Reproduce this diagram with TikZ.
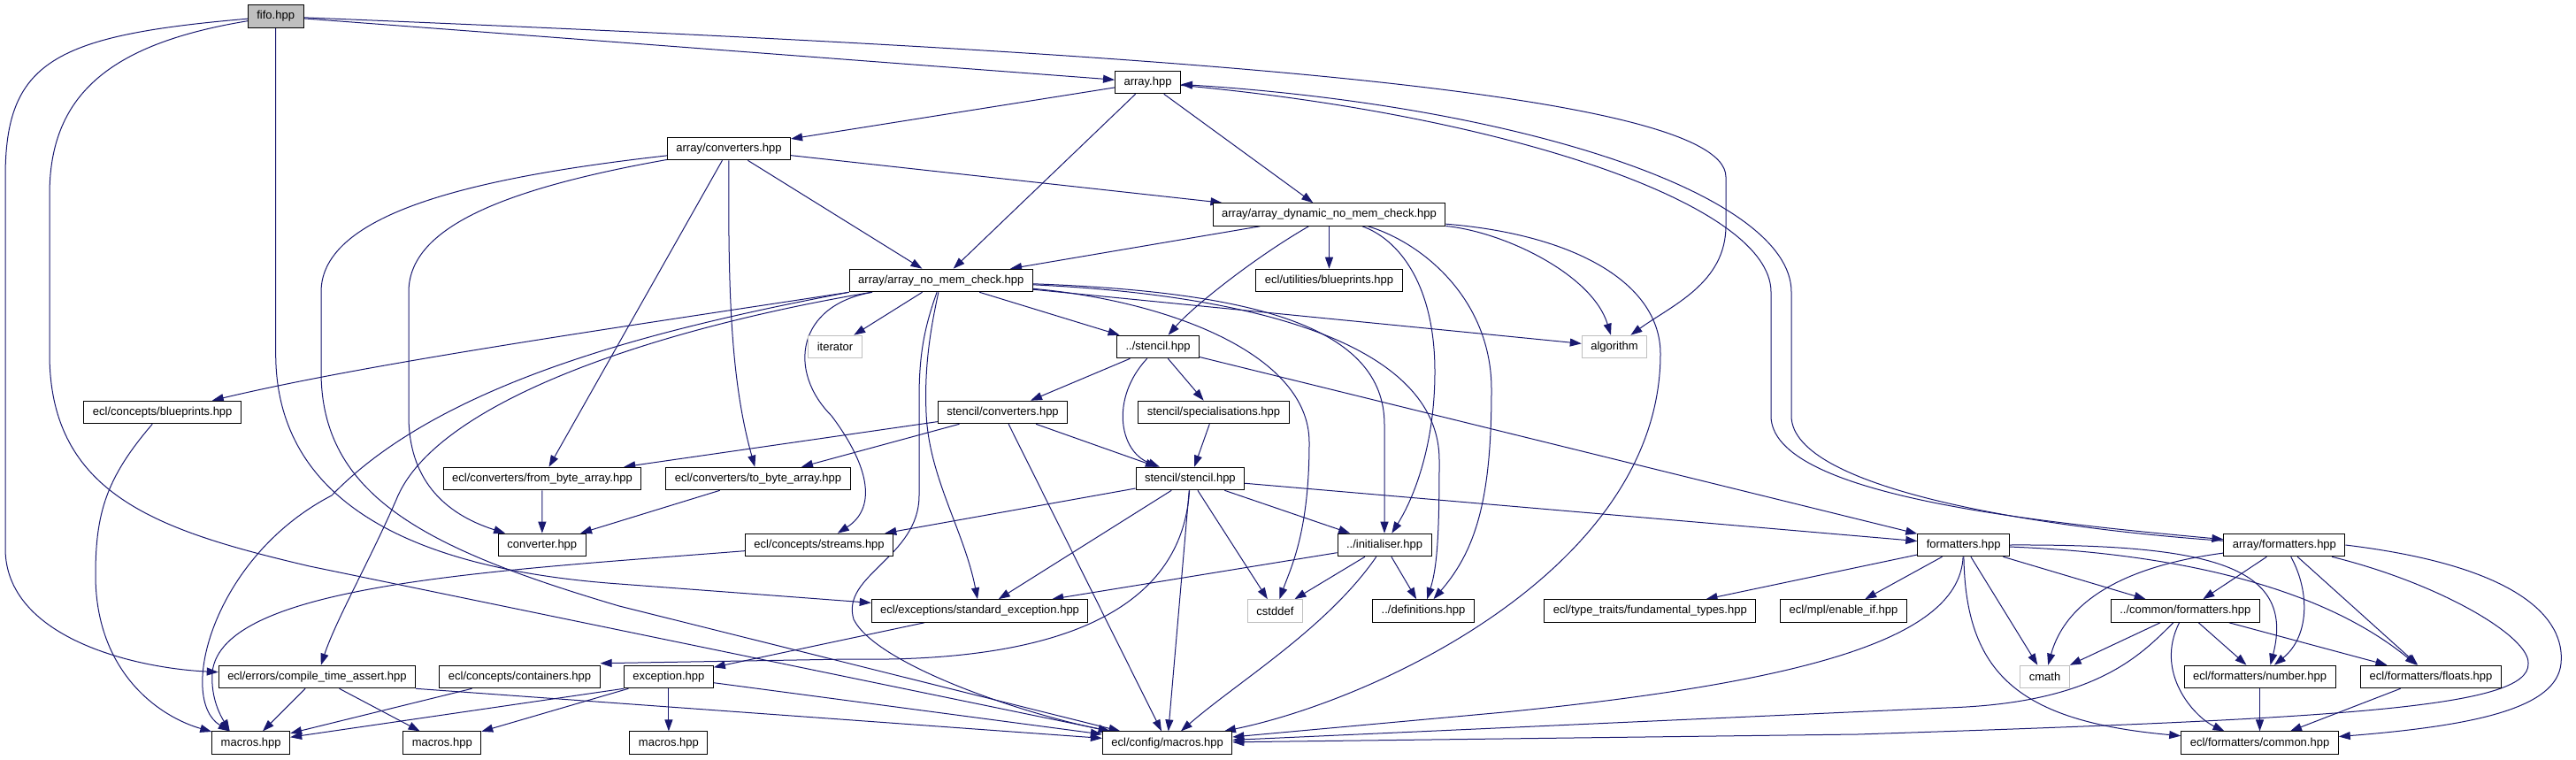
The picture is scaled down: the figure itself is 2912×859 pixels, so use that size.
\documentclass[tikz,border=0pt]{standalone}
\usepackage{fontspec}
\setmainfont{Liberation Sans}[Ligatures=CommonOff]
\usetikzlibrary{arrows.meta,backgrounds}
\definecolor{edgeblue}{RGB}{25,25,112}
\definecolor{sysgray}{RGB}{191,191,191}
\definecolor{fifogray}{RGB}{191,191,191}
\tikzset{
  inc/.style={draw=black, fill=white, line width=1pt, minimum height=25.6pt,
    inner xsep=10pt, inner ysep=1pt, font=\fontsize{13}{15}\selectfont},
  sys/.style={inc, draw=sysgray},
  dep/.style={draw=edgeblue, line width=1pt, -{Triangle[length=13pt,width=9pt]}}
}
\begin{document}
\begin{tikzpicture}[x=1pt,y=-1pt]
\useasboundingbox (0,0) rectangle (2912,859);

\node[inc, fill=fifogray] (fifo) at (311.7,18.5) {fifo.hpp};
\node[inc] (arr) at (1297.5,93) {array.hpp};
\node[inc] (arrconv) at (824,168) {array/converters.hpp};
\node[inc] (arrdyn) at (1502.5,242.5) {array/array\_dynamic\_no\_mem\_check.hpp};
\node[inc] (arrnmc) at (1063.8,317) {array/array\_no\_mem\_check.hpp};
\node[inc] (utilbp) at (1502.5,317) {ecl/utilities/blueprints.hpp};
\node[sys] (iter) at (944,392) {iterator};
\node[inc] (stcl) at (1309,392) {../stencil.hpp};
\node[sys] (algo) at (1825,392) {algorithm};
\node[inc] (conbp) at (183.7,466) {ecl/concepts/blueprints.hpp};
\node[inc] (stconv) at (1133.5,466) {stencil/converters.hpp};
\node[inc] (stspec) at (1372,466) {stencil/specialisations.hpp};
\node[inc] (frombyte) at (613,541) {ecl/converters/from\_byte\_array.hpp};
\node[inc] (tobyte) at (857,541) {ecl/converters/to\_byte\_array.hpp};
\node[inc] (ststcl) at (1345.4,541) {stencil/stencil.hpp};
\node[inc] (conv) at (612.8,616) {converter.hpp};
\node[inc] (streams) at (926,616) {ecl/concepts/streams.hpp};
\node[inc] (init) at (1565,616) {../initialiser.hpp};
\node[inc] (fmt) at (2219.7,616) {formatters.hpp};
\node[inc] (arrfmt) at (2582.4,616) {array/formatters.hpp};
\node[inc] (stdexc) at (1107.6,690.5) {ecl/exceptions/standard\_exception.hpp};
\node[sys] (cstddef) at (1441.4,690.5) {cstddef};
\node[inc] (defs) at (1609,690.5) {../definitions.hpp};
\node[inc] (fundt) at (1865.3,690.5) {ecl/type\_traits/fundamental\_types.hpp};
\node[inc] (enif) at (2084,690.5) {ecl/mpl/enable\_if.hpp};
\node[inc] (comfmt) at (2470.3,690.5) {../common/formatters.hpp};
\node[inc] (cta) at (358.4,765) {ecl/errors/compile\_time\_assert.hpp};
\node[inc] (cont) at (587.5,765) {ecl/concepts/containers.hpp};
\node[inc] (exc) at (755.9,765) {exception.hpp};
\node[sys] (cmath) at (2311.5,765) {cmath};
\node[inc] (number) at (2554.5,765) {ecl/formatters/number.hpp};
\node[inc] (floats) at (2748,765) {ecl/formatters/floats.hpp};
\node[inc] (macA) at (283.7,839.7) {macros.hpp};
\node[inc] (macB) at (499.8,839.7) {macros.hpp};
\node[inc] (macC) at (755.9,839.7) {macros.hpp};
\node[inc] (cfgmac) at (1319.6,839.7) {ecl/config/macros.hpp};
\node[inc] (fcommon) at (2554.5,839.7) {ecl/formatters/common.hpp};

\begin{pgfonlayer}{background}
\fill[white] (0,0) rectangle (2912,859);
% fifo.hpp
\draw[dep] (fifo) -- (arr);
\draw[dep] (fifo) .. controls (1200,55) and (1951,95) .. (1951,200) -- (1951,255) .. controls (1951,320) and (1890,345) .. (algo);
\draw[dep] (fifo) .. controls (60,40) and (6,70) .. (6,200) -- (6,620) .. controls (6,720) and (150,755) .. (cta);
\draw[dep] (fifo) .. controls (120,50) and (56,110) .. (56,220) -- (56,400) .. controls (56,560) and (180,600) .. (350,640) -- (cfgmac);
\draw[dep] (fifo) -- (311.7,400) .. controls (311.7,540) and (420,640) .. (700,660) -- (stdexc);
% array.hpp
\draw[dep] (arr) -- (arrconv);
\draw[dep] (arr) -- (arrnmc);
\draw[dep] (arr) -- (arrdyn);
\draw[dep] (arr) .. controls (1700,130) and (2002,230) .. (2002,330) -- (2002,470) .. controls (2002,560) and (2300,590) .. (arrfmt);
\draw[dep] (arrfmt) .. controls (2320,598) and (2025,555) .. (2025,470) -- (2025,330) .. controls (2025,220) and (1720,120) .. (arr);
% array/converters.hpp
\draw[dep] (arrconv) -- (arrdyn);
\draw[dep] (arrconv) -- (arrnmc);
\draw[dep] (arrconv) -- (frombyte);
\draw[dep] (arrconv) .. controls (823,330) and (826,430) .. (tobyte);
\draw[dep] (arrconv) .. controls (560,215) and (462,260) .. (462,330) -- (462,470) .. controls (462,540) and (500,580) .. (conv);
\draw[dep] (arrconv) .. controls (540,200) and (363,240) .. (363,330) -- (363,420) .. controls (363,560) and (480,620) .. (700,685) -- (cfgmac);
% array_dynamic_no_mem_check.hpp
\draw[dep] (arrdyn) -- (arrnmc);
\draw[dep] (arrdyn) .. controls (1420,290) and (1350,345) .. (stcl);
\draw[dep] (arrdyn) -- (utilbp);
\draw[dep] (arrdyn) .. controls (1700,262) and (1800,310) .. (algo);
\draw[dep] (arrdyn) .. controls (1580,270) and (1622,320) .. (1622,420) .. controls (1622,500) and (1600,560) .. (init);
\draw[dep] (arrdyn) .. controls (1610,275) and (1686,340) .. (1686,440) .. controls (1686,560) and (1670,620) .. (defs);
\draw[dep] (arrdyn) .. controls (1780,265) and (1877,320) .. (1877,400) .. controls (1877,640) and (1560,790) .. (cfgmac);
% array_no_mem_check.hpp
\draw[dep] (arrnmc.south west) .. controls (700,370) and (420,410) .. (conbp);
\draw[dep] (arrnmc.south west) .. controls (750,370) and (500,430) .. (375,560) .. controls (240,630) and (200,790) .. ([xshift=-24pt]macA.north);
\draw[dep] (arrnmc) .. controls (750,370) and (500,450) .. (450,560) .. controls (420,630) and (380,700) .. (cta);
\draw[dep] (arrnmc) .. controls (900,345) and (890,420) .. (940,470) .. controls (985,530) and (990,575) .. (streams);
\draw[dep] (arrnmc) -- (iter);
\draw[dep] (arrnmc) .. controls (1045,370) and (1039,400) .. (1039,450) -- (1039,560) .. controls (1039,630) and (950,650) .. (965,700) .. controls (990,750) and (1150,805) .. (cfgmac);
\draw[dep] (arrnmc) .. controls (1050,380) and (1045,420) .. (1047,467) .. controls (1050,540) and (1090,600) .. (stdexc);
\draw[dep] (arrnmc) -- (stcl);
\draw[dep] (arrnmc) -- (algo);
\draw[dep] (arrnmc) .. controls (1420,330) and (1565,370) .. (1565,480) -- (init);
\draw[dep] (arrnmc) .. controls (1450,335) and (1627,400) .. (1627,520) .. controls (1627,600) and (1625,640) .. (defs);
\draw[dep] (arrnmc) .. controls (1320,340) and (1480,400) .. (1480,500) .. controls (1480,600) and (1460,640) .. (cstddef);
% ../stencil.hpp
\draw[dep] (stcl) -- (stconv);
\draw[dep] (stcl) .. controls (1255,450) and (1265,510) .. (ststcl);
\draw[dep] (stcl) -- (stspec);
\draw[dep] (stcl) -- (fmt);
% stencil/converters.hpp
\draw[dep] (stconv) -- (frombyte);
\draw[dep] (stconv) -- (tobyte);
\draw[dep] (stconv) -- (cfgmac);
\draw[dep] (stconv) -- (ststcl);
\draw[dep] (stspec) -- (ststcl);
\draw[dep] (frombyte) -- (conv);
\draw[dep] (tobyte) -- (conv);
% stencil/stencil.hpp
\draw[dep] (ststcl) -- (streams);
\draw[dep] (ststcl) -- (stdexc);
\draw[dep] (ststcl) .. controls (1338,660) and (1250,750) .. (960,745) -- ([yshift=2pt]cont.north east);
\draw[dep] (ststcl) -- (cfgmac);
\draw[dep] (ststcl) -- (cstddef);
\draw[dep] (ststcl) -- (init);
\draw[dep] (ststcl) -- (fmt);
% ../initialiser.hpp
\draw[dep] (init) -- (stdexc);
\draw[dep] (init) -- (cstddef);
\draw[dep] (init) .. controls (1500,710) and (1400,770) .. (cfgmac);
\draw[dep] (init) -- (defs);
% exceptions
\draw[dep] (stdexc) -- (exc);
\draw[dep] (exc.south west) -- (macA);
\draw[dep] (exc) -- (macB);
\draw[dep] (exc) -- (macC);
\draw[dep] (exc) -- (cfgmac);
\draw[dep] (cont) -- (macA);
\draw[dep] (cta) -- (macA);
\draw[dep] (cta) -- (macB);
\draw[dep] (cta.south east) -- (cfgmac);
\draw[dep] (conbp) .. controls (120,540) and (108,580) .. (108,650) .. controls (108,760) and (180,810) .. (macA);
\draw[dep] (streams) .. controls (560,645) and (250,660) .. (240,760) .. controls (238,790) and (250,810) .. ([xshift=-24pt]macA.north);
% formatters.hpp
\draw[dep] (fmt) -- (fundt);
\draw[dep] (fmt) -- (enif);
\draw[dep] (fmt) .. controls (2215,720) and (2050,770) .. (1700,805) -- (cfgmac);
\draw[dep] (fmt) .. controls (2222,760) and (2280,815) .. (fcommon);
\draw[dep] (fmt) -- (cmath);
\draw[dep] (fmt) -- (comfmt);
\draw[dep] (fmt.east) .. controls (2500,615) and (2595,640) .. ([xshift=12pt]number.north);
\draw[dep] (fmt) .. controls (2450,625) and (2620,660) .. (floats);
% array/formatters.hpp
\draw[dep] (arrfmt) .. controls (2400,640) and (2335,680) .. (cmath);
\draw[dep] (arrfmt) -- (comfmt);
\draw[dep] (arrfmt) .. controls (2612,670) and (2610,720) .. (number);
\draw[dep] (arrfmt) -- (floats);
\draw[dep] (arrfmt) .. controls (2760,660) and (2860,720) .. (2858,750) .. controls (2860,800) and (2650,812) .. (2100,830) -- (cfgmac);
\draw[dep] (arrfmt.east) .. controls (2850,640) and (2900,700) .. (2895,750) .. controls (2890,800) and (2800,820) .. (fcommon);
% ../common/formatters.hpp
\draw[dep] (comfmt) -- (cmath);
\draw[dep] (comfmt) .. controls (2420,740) and (2370,795) .. (2200,800) -- (cfgmac);
\draw[dep] (comfmt) .. controls (2435,760) and (2480,810) .. ([xshift=-40pt]fcommon.north);
\draw[dep] (comfmt) -- (number);
\draw[dep] (comfmt) -- (floats);
\draw[dep] (number) -- (fcommon);
\draw[dep] (floats) -- (fcommon);
\end{pgfonlayer}
\end{tikzpicture}
\end{document}
